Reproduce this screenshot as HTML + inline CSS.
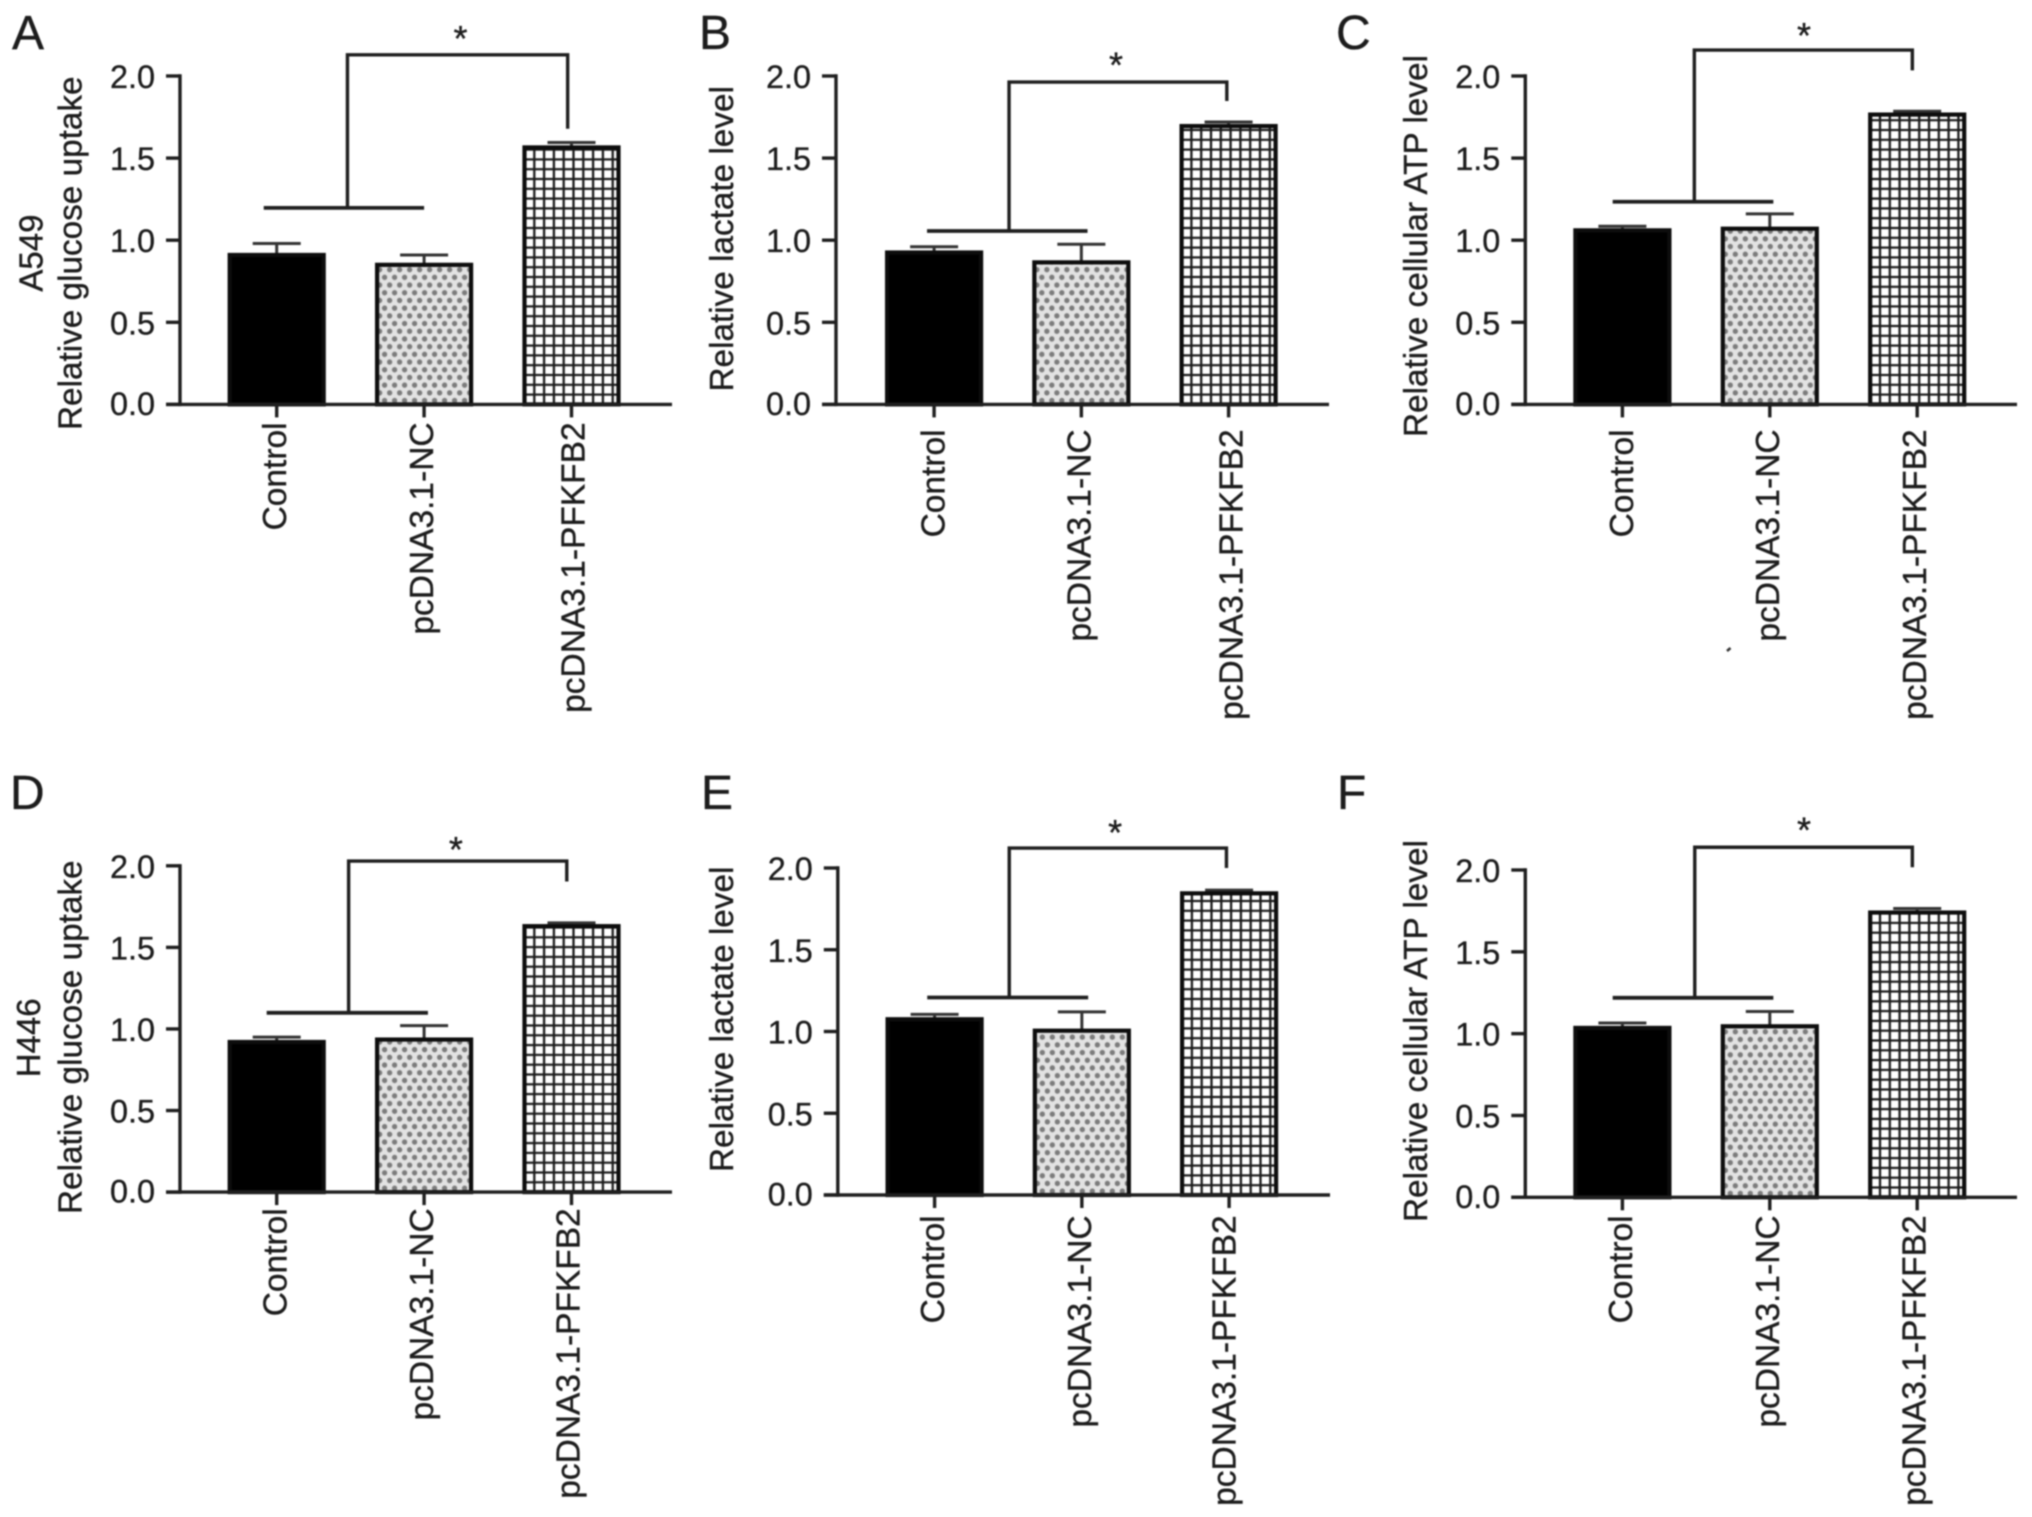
<!DOCTYPE html>
<html lang="en">
<head>
<meta charset="utf-8">
<title>PFKFB2 glycolysis bar charts</title>
<style>
  html, body { margin: 0; padding: 0; background: #fff; }
  svg { display: block; filter: blur(0.7px); }
  text { font-family: "Liberation Sans", sans-serif; fill: #1c1c1c; stroke: #1c1c1c; stroke-width: 0.35px; }
</style>
</head>
<body>
<svg id="figure" width="2032" height="1517" viewBox="0 0 2032 1517" xmlns="http://www.w3.org/2000/svg">
  <rect x="0" y="0" width="2032" height="1517" fill="#ffffff"></rect>
  <defs id="defs"></defs>
</svg>
<script>
const categories = ["Control", "pcDNA3.1-NC", "pcDNA3.1-PFKFB2"];
const yTickValues = [0, 0.5, 1, 1.5, 2];
const yTickLabels = ["0.0", "0.5", "1.0", "1.5", "2.0"];

const panelAMeans = [0.91, 0.85, 1.565];
const panelAErrorTops = [0.98, 0.91, 1.595];
const panelBMeans = [0.925, 0.865, 1.695];
const panelBErrorTops = [0.96, 0.975, 1.72];
const panelCMeans = [1.06, 1.07, 1.765];
const panelCErrorTops = [1.085, 1.16, 1.785];
const panelDMeans = [0.92, 0.935, 1.63];
const panelDErrorTops = [0.95, 1.02, 1.65];
const panelEMeans = [1.075, 1.005, 1.845];
const panelEErrorTops = [1.105, 1.12, 1.865];
const panelFMeans = [1.035, 1.045, 1.74];
const panelFErrorTops = [1.065, 1.135, 1.765];

const panels = [
  { key: "a", letter: "A", means: panelAMeans, tops: panelAErrorTops, title: "Relative glucose uptake", cell: "A549",
    letterX: 12, letterY: 49, axisX: 180, yZero: 404.4, yTwo: 76, tick0: 276.7, step: 147.4, axisEnd: 672,
    titleX: 81.4, titleBottom: 430, cellX: 42.4, cellBottom: 291.6, labelTop: 422.4, labelShift: [9.4, 9, 13],
    bracket: { top: 2.129, end: 1.679, group: 1.197, left: 0.48, right: 1.974, g0: -0.088, g1: 1.0, star: 1.247, starV: 2.253 } },
  { key: "b", letter: "B", means: panelBMeans, tops: panelBErrorTops, title: "Relative lactate level",
    letterX: 699, letterY: 49, axisX: 836, yZero: 404.4, yTwo: 76, tick0: 934.1, step: 147.25, axisEnd: 1329,
    titleX: 733, titleBottom: 391.5, labelTop: 429.4, labelShift: [10.4, 9, 14],
    bracket: { top: 1.963, end: 1.848, group: 1.056, left: 0.509, right: 1.988, g0: -0.048, g1: 1.042, star: 1.235, starV: 2.092 } },
  { key: "c", letter: "C", means: panelCMeans, tops: panelCErrorTops, title: "Relative cellular ATP level",
    letterX: 1336, letterY: 49, axisX: 1525.3, yZero: 404.4, yTwo: 76, tick0: 1622.4, step: 147.4, axisEnd: 2017,
    titleX: 1427, titleBottom: 437, labelTop: 429.4, labelShift: [10.4, 9, 9],
    bracket: { top: 2.158, end: 2.034, group: 1.234, left: 0.488, right: 1.967, g0: -0.066, g1: 1.024, star: 1.232, starV: 2.27 } },
  { key: "d", letter: "D", means: panelDMeans, tops: panelDErrorTops, title: "Relative glucose uptake", cell: "H446",
    letterX: 10, letterY: 809, axisX: 180, yZero: 1192.1, yTwo: 865.8, tick0: 276.7, step: 147.4, axisEnd: 672,
    titleX: 81.4, titleBottom: 1214, cellX: 40, cellBottom: 1077.3, labelTop: 1208.3, labelShift: [10, 9, 8],
    bracket: { top: 2.029, end: 1.904, group: 1.099, left: 0.488, right: 1.968, g0: -0.068, g1: 1.026, star: 1.216, starV: 2.125 } },
  { key: "e", letter: "E", means: panelEMeans, tops: panelEErrorTops, title: "Relative lactate level",
    letterX: 701, letterY: 809, axisX: 837.8, yZero: 1195, yTwo: 868, tick0: 934.6, step: 147.25, axisEnd: 1330,
    titleX: 733, titleBottom: 1172, labelTop: 1215.4, labelShift: [9.4, 9, 6.5],
    bracket: { top: 2.122, end: 2.0, group: 1.208, left: 0.507, right: 1.982, g0: -0.05, g1: 1.043, star: 1.226, starV: 2.242 } },
  { key: "f", letter: "F", means: panelFMeans, tops: panelFErrorTops, title: "Relative cellular ATP level",
    letterX: 1337, letterY: 809, axisX: 1525.3, yZero: 1197.3, yTwo: 870, tick0: 1622.4, step: 147.4, axisEnd: 2017,
    titleX: 1427, titleBottom: 1222, labelTop: 1215.4, labelShift: [9.4, 9, 8.5],
    bracket: { top: 2.139, end: 2.017, group: 1.219, left: 0.491, right: 1.967, g0: -0.066, g1: 1.024, star: 1.232, starV: 2.27 } }
];

const NS = "http://www.w3.org/2000/svg";
const figure = document.getElementById("figure");
const defs = document.getElementById("defs");
const BAR_WIDTH = 94;
const INK = "#1f1f1f";

function make(parent, tag, attrs, content) {
  const node = document.createElementNS(NS, tag);
  Object.keys(attrs).forEach(function (k) { node.setAttribute(k, attrs[k]); });
  if (content !== undefined) node.textContent = content;
  parent.appendChild(node);
  return node;
}

function line(parent, x1, y1, x2, y2, width, color) {
  return make(parent, "line", { x1: x1, y1: y1, x2: x2, y2: y2, stroke: color || INK, "stroke-width": width });
}

function buildPatterns(p, xScale, yScale) {
  const dots = make(defs, "pattern", {
    id: "dots-" + p.key, width: 10, height: 15.4, patternUnits: "userSpaceOnUse",
    patternTransform: "translate(" + (xScale(1) - BAR_WIDTH / 2) + "," + yScale(0) + ")"
  });
  make(dots, "rect", { x: 0, y: 0, width: 10, height: 15.4, fill: "#e2e2e2" });
  make(dots, "circle", { cx: 2.5, cy: 3.85, r: 2.7, fill: "#7c7c7c" });
  make(dots, "circle", { cx: 7.5, cy: 11.55, r: 2.7, fill: "#7c7c7c" });
  const grid = make(defs, "pattern", {
    id: "grid-" + p.key, width: 9.8, height: 9.8, patternUnits: "userSpaceOnUse",
    patternTransform: "translate(" + (xScale(2) - BAR_WIDTH / 2 - 4.9) + "," + (yScale(0) - 4.9) + ")"
  });
  make(grid, "rect", { x: 0, y: 0, width: 9.8, height: 9.8, fill: "#ffffff" });
  make(grid, "path", { d: "M0 4.9 H9.8 M4.9 0 V9.8", fill: "none", stroke: "#1a1a1a", "stroke-width": 2.3 });
}

panels.forEach(function (p) {
  const yScale = function (v) { return p.yZero + (p.yTwo - p.yZero) * v / 2; };
  const xScale = function (i) { return p.tick0 + p.step * i; };

  buildPatterns(p, xScale, yScale);

  const group = make(figure, "g", {});
  
  

  const letter = make(group, "text", { x: p.letterX, y: p.letterY, "font-size": 48 }, p.letter);
  
  

  const title = make(group, "text", {
    transform: "translate(" + p.titleX + "," + p.titleBottom + ") rotate(-90)", "font-size": 33.3
  }, p.title);
  
  

  if (p.cell) {
    const cell = make(group, "text", {
      transform: "translate(" + p.cellX + "," + p.cellBottom + ") rotate(-90)", "font-size": 33
    }, p.cell);
    
    
  }

  categories.forEach(function (name, i) {
    const cx = xScale(i);
    const stem = line(group, cx, yScale(p.means[i]), cx, yScale(p.tops[i]), 3, "#333");
    
    
    const cap = line(group, cx - 24, yScale(p.tops[i]), cx + 24, yScale(p.tops[i]), 3, "#333");
    
    

    const fill = i === 0 ? "#000000" : "url(#" + (i === 1 ? "dots-" : "grid-") + p.key + ")";
    const bar = make(group, "rect", {
      x: cx - BAR_WIDTH / 2, y: yScale(p.means[i]), width: BAR_WIDTH, height: yScale(0) - yScale(p.means[i]),
      fill: fill, stroke: "#0d0d0d", "stroke-width": 4.2
    });
    
    

    const tick = line(group, cx, yScale(0), cx, yScale(0) + 13, 3.4);
    
    

    const label = make(group, "text", {
      transform: "translate(" + (cx + p.labelShift[i]) + "," + p.labelTop + ") rotate(-90)",
      "font-size": 33.5, "text-anchor": "end"
    }, name);
    
    
  });

  const yAxis = line(group, p.axisX, yScale(2) - 1.7, p.axisX, yScale(0) + 1.7, 3.4);
  
  
  const xAxis = line(group, p.axisX - 14, yScale(0), p.axisEnd, yScale(0), 3.4);
  
  

  yTickValues.forEach(function (v, i) {
    const tick = line(group, p.axisX - 14, yScale(v), p.axisX, yScale(v), 3.4);
    
    
    const label = make(group, "text", {
      x: p.axisX - 25, y: yScale(v) + (v === 0 ? 10.5 : 12), "font-size": 32.4, "text-anchor": "end"
    }, yTickLabels[i]);
    
    
  });

  const b = p.bracket;
  const groupLine = line(group, xScale(b.g0), yScale(b.group), xScale(b.g1), yScale(b.group), 3.8);
  
  
  const connector = make(group, "path", {
    d: "M" + xScale(b.left) + " " + yScale(b.group) + " V" + yScale(b.top) + " H" + xScale(b.right) + " V" + yScale(b.end),
    fill: "none", stroke: INK, "stroke-width": 3.4
  });
  
  
  const star = make(group, "text", {
    x: xScale(b.star), y: yScale(b.starV) + 16.5, "font-size": 36, "text-anchor": "middle"
  }, "*");
  
  
});

const speck = line(figure, 1727, 651, 1730.5, 648, 2.6, "#333");


</script>
</body>
</html>
